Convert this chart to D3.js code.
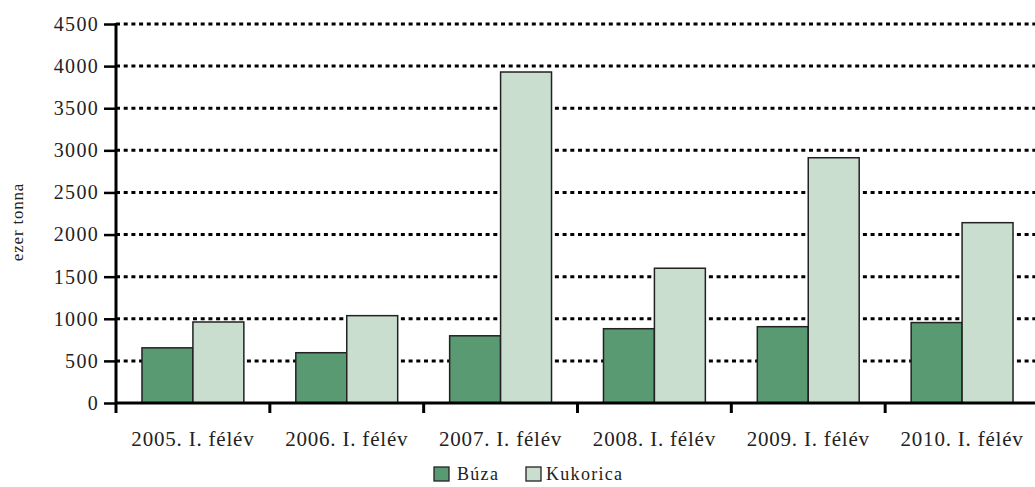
<!DOCTYPE html>
<html><head><meta charset="utf-8">
<script src="https://cdn.jsdelivr.net/npm/d3@7"></script>
<style>body{margin:0;background:#fff;} svg{display:block;} text{font-family:"Liberation Serif","Times New Roman",serif;fill:#222;}</style>
</head><body>
<svg id="chart" width="1035" height="487"></svg>
<script>
const categories = ["2005. I. félév","2006. I. félév","2007. I. félév","2008. I. félév","2009. I. félév","2010. I. félév"];
const seriesNames = ["Búza","Kukorica"];
const buza = [655, 597, 798, 882, 906, 955];
const kukorica = [962, 1037, 3930, 1600, 2912, 2141];
const yTicks = [0,500,1000,1500,2000,2500,3000,3500,4000,4500];
const colors = ["#5a9a72","#cadecf"];
const FONT = '"Liberation Serif","Times New Roman",serif';

const svg = d3.select("#chart");
const m = {left:116, top:24, right:1039, bottom:403};
const x = d3.scaleBand().domain(categories).range([m.left, m.right]).paddingInner(0).paddingOuter(0);
const xs = d3.scaleBand().domain(seriesNames).range([0, x.bandwidth()]).paddingInner(0).paddingOuter(0.51);
const y = d3.scaleLinear().domain([0,4500]).range([m.bottom, m.top]);

// gridlines
svg.append("g").selectAll("line").data(yTicks.filter(d=>d>0)).join("line")
  .attr("x1", m.left).attr("x2", 1035).attr("y1", d=>y(d)).attr("y2", d=>y(d))
  .attr("stroke","#000").attr("stroke-width",3).attr("stroke-dasharray","4,3.7");

const data = categories.map((c,i)=>({c, vals:[buza[i], kukorica[i]]}));
const g = svg.append("g").selectAll("g").data(data).join("g")
  .attr("transform", d=>`translate(${x(d.c)},0)`);
g.selectAll("rect").data(d=>d.vals.map((v,j)=>({v, s:seriesNames[j], j}))).join("rect")
  .attr("x", d=>xs(d.s)).attr("width", xs.bandwidth())
  .attr("y", d=>y(d.v)).attr("height", d=>y(0)-y(d.v))
  .attr("fill", d=>colors[d.j]).attr("stroke","#222").attr("stroke-width",1.5);

// y axis
const yAxis = d3.axisLeft(y).tickValues(yTicks).tickSize(12).tickPadding(5).tickFormat(d3.format("d"));
const ya = svg.append("g").attr("transform",`translate(${m.left},0)`).call(yAxis)
  .attr("font-family", null).attr("font-size", null);
ya.select(".domain").remove();
ya.selectAll(".tick line").attr("stroke","#000").attr("stroke-width",2.5);
ya.selectAll(".tick text").style("font-family",FONT).style("font-size","20px")
  .style("letter-spacing","1.3px").attr("fill","#222");
svg.append("line").attr("x1",m.left).attr("x2",m.left).attr("y1",m.top-1).attr("y2",m.bottom+10)
  .attr("stroke","#000").attr("stroke-width",3);

// x axis
svg.append("line").attr("x1",m.left).attr("x2",1035).attr("y1",m.bottom).attr("y2",m.bottom)
  .attr("stroke","#000").attr("stroke-width",3);
svg.append("g").selectAll("line").data(categories.slice(1)).join("line")
  .attr("x1",d=>x(d)).attr("x2",d=>x(d)).attr("y1",m.bottom).attr("y2",m.bottom+10)
  .attr("stroke","#000").attr("stroke-width",3);
svg.append("g").selectAll("text").data(categories).join("text")
  .attr("x",d=>x(d)+x.bandwidth()/2).attr("y",446).attr("text-anchor","middle")
  .style("font-size","21px").style("letter-spacing","0.8px").text(d=>d);

// y label
svg.append("text").attr("transform","translate(23,222) rotate(-90)").attr("text-anchor","middle")
  .style("font-size","17px").style("letter-spacing","0.8px").text("ezer tonna");

// legend
const leg = [{n:"Búza",x:434},{n:"Kukorica",x:526}];
const lg = svg.append("g").selectAll("g").data(leg).join("g").attr("transform",d=>`translate(${d.x},467)`);
lg.append("rect").attr("width",15).attr("height",14).attr("fill",(d,i)=>colors[i]).attr("stroke","#222").attr("stroke-width",1.3);
lg.append("text").attr("x",d=>d.n==="Búza"?23:20).attr("y",13).style("font-size","18px").style("letter-spacing","1.3px").text(d=>d.n);
</script>
</body></html>
